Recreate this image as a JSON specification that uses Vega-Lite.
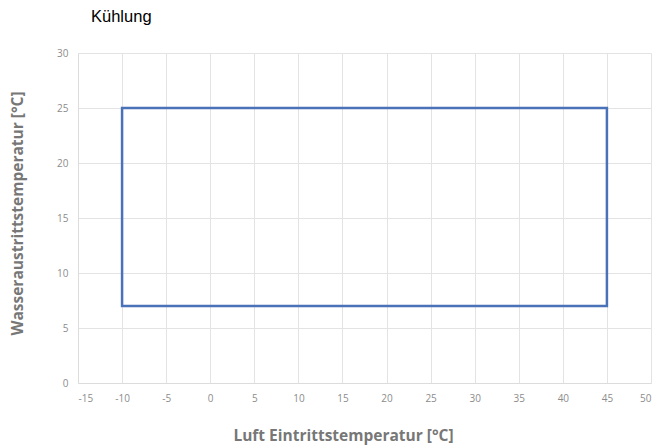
{
  "$schema": "https://vega.github.io/schema/vega-lite/v6.json",
  "width": 573,
  "height": 330,
  "autosize": {"type": "none"},
  "padding": {"left": 78, "top": 53, "right": 4, "bottom": 62},
  "background": "white",
  "title": {
    "text": "Kühlung",
    "anchor": "start",
    "frame": "group",
    "dx": 13,
    "offset": 23,
    "font": "Liberation Sans",
    "fontSize": 16.5,
    "fontWeight": "normal",
    "color": "#000000"
  },
  "data": {
    "values": [
      {"luft": -10, "wasser": 7, "ord": 0},
      {"luft": -10, "wasser": 25, "ord": 1},
      {"luft": 45, "wasser": 25, "ord": 2},
      {"luft": 45, "wasser": 7, "ord": 3},
      {"luft": -10, "wasser": 7, "ord": 4}
    ]
  },
  "mark": {"type": "line", "color": "#4a72b8", "strokeWidth": 2.5, "strokeCap": "square"},
  "encoding": {
    "x": {
      "field": "luft",
      "type": "quantitative",
      "scale": {"domain": [-15, 50], "nice": false, "zero": false},
      "axis": {
        "title": "Luft Eintrittstemperatur [°C]",
        "values": [-15, -10, -5, 0, 5, 10, 15, 20, 25, 30, 35, 40, 45, 50],
        "labelExpr": "'' + datum.value",
        "labelFont": "Open Sans",
        "labelFontSize": 10,
        "labelColor": "#8c8c8c",
        "labelPadding": 10,
        "ticks": false,
        "domainColor": "#dcdcdc",
        "gridColor": "#e3e3e3",
        "titleFont": "Open Sans",
        "titleFontSize": 15.5,
        "titleFontWeight": "bold",
        "titleColor": "#777777",
        "titleX": 265,
        "titlePadding": 25
      }
    },
    "y": {
      "field": "wasser",
      "type": "quantitative",
      "scale": {"domain": [0, 30], "nice": false},
      "axis": {
        "title": "Wasseraustrittstemperatur [°C]",
        "values": [0, 5, 10, 15, 20, 25, 30],
        "labelFont": "Open Sans",
        "labelFontSize": 10,
        "labelColor": "#8c8c8c",
        "labelPadding": 10,
        "ticks": false,
        "domainColor": "#dcdcdc",
        "gridColor": "#e3e3e3",
        "titleFont": "Open Sans",
        "titleFontSize": 15.5,
        "titleFontWeight": "bold",
        "titleColor": "#777777",
        "titleY": 160,
        "titlePadding": 31
      }
    },
    "order": {"field": "ord", "type": "quantitative"}
  },
  "config": {"view": {"stroke": null}}
}
